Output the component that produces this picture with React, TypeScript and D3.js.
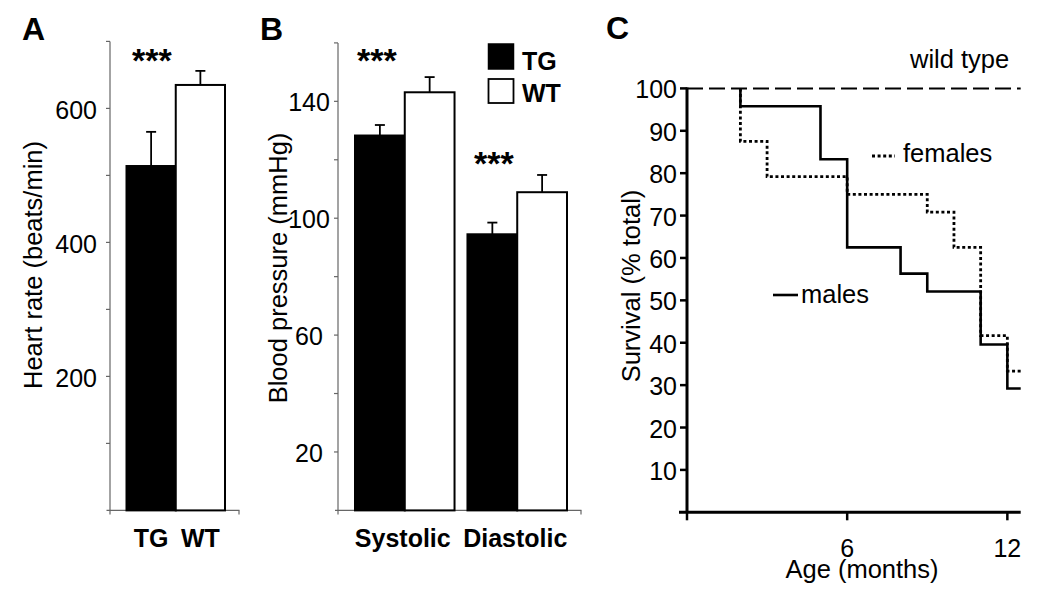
import React from "react";
import * as d3 from "d3";

// Panel A: heart rate
const groups = ["TG", "WT"];
const heartRate = [514, 635];
const heartRateErr = [51, 21];

// Panel B: blood pressure
const bpCategories = ["Systolic", "Diastolic"];
const bpTG = [128.3, 94.5];
const bpTGErr = [3.6, 4.0];
const bpWT = [143.1, 108.9];
const bpWTErr = [5.2, 5.9];

// Panel C: survival (step after each event time)
const maleEvents = [2, 5, 6, 8, 9, 11, 12];
const maleSurvival = [95.8, 83.3, 62.5, 56.3, 52.1, 39.6, 29.2];
const femaleEvents = [2, 3, 6, 9, 10, 11, 12];
const femaleSurvival = [87.5, 79.2, 75.0, 70.8, 62.5, 41.7, 33.3];
const followUpEnd = 12.5;

const hrTicks = [100, 200, 300, 400, 500, 600, 700];
const hrLabels = [200, 400, 600];
const bpTicks = [20, 40, 60, 80, 100, 120, 140, 160];
const bpLabels = [20, 60, 100, 140];
const survTicks = [10, 20, 30, 40, 50, 60, 70, 80, 90, 100];
const ageTicks = [0, 6, 12];
const ageLabels = [6, 12];

const FONT = "'Liberation Sans', Arial, Helvetica, sans-serif";
const AXIS_GRAY = "#666";

const App: React.FC = () => {
  // ---------- A ----------
  const yA = d3.scaleLinear().domain([0, 700]).range([510.4, 41.4]);
  const xA = d3.scaleBand<string>().domain(groups).range([126.5, 225]);
  const axA = 110;

  // ---------- B ----------
  const yB = d3.scaleLinear().domain([0, 160]).range([510.4, 42.9]);
  const xB = d3.scaleBand<string>().domain(bpCategories).range([355, 567]).paddingInner(0.115);
  const xSub = d3.scaleBand<string>().domain(groups).range([0, xB.bandwidth()]);
  const axB = 338;

  // ---------- C ----------
  const xC = d3.scaleLinear().domain([0, followUpEnd]).range([687, 1020.7]);
  const yC = d3.scaleLinear().domain([0, 100]).range([512.3, 88.4]);
  const step = d3
    .line<[number, number]>()
    .x((d) => xC(d[0]))
    .y((d) => yC(d[1]))
    .curve(d3.curveStepAfter);
  const toPts = (ev: number[], s: number[]): [number, number][] => [
    [ev[0], 100],
    ...ev.map((t, i) => [t, s[i]] as [number, number]),
    [followUpEnd, s[s.length - 1]],
  ];
  const malePath = step(toPts(maleEvents, maleSurvival)) || "";
  const femalePath = step(toPts(femaleEvents, femaleSurvival)) || "";

  const errBar = (cx: number, yTop: number, yErr: number, key: string) => (
    <g key={key} stroke="#000" strokeWidth={1.8}>
      <line x1={cx} x2={cx} y1={yTop} y2={yErr} />
      <line x1={cx - 5} x2={cx + 5} y1={yErr} y2={yErr} />
    </g>
  );

  return (
    <svg
      width={1050}
      height={595}
      style={{ position: "absolute", left: 0, top: 0, background: "#fff" }}
      fontFamily={FONT}
    >
      <rect width={1050} height={595} fill="#fff" />

      {/* ===== Panel A ===== */}
      <text x={22} y={40} fontSize={32} fontWeight="bold">A</text>
      <line x1={axA} x2={axA} y1={yA(700)} y2={yA(0)} stroke={AXIS_GRAY} strokeWidth={1.2} />
      <line x1={106.5} x2={239.5} y1={yA(0)} y2={yA(0)} stroke={AXIS_GRAY} strokeWidth={1.2} />
      <line x1={axA} x2={axA} y1={yA(0)} y2={yA(0) + 4} stroke={AXIS_GRAY} strokeWidth={1.2} />
      <line x1={239} x2={239} y1={yA(0)} y2={yA(0) + 4} stroke={AXIS_GRAY} strokeWidth={1.2} />
      {hrTicks.map((t) => (
        <line key={t} x1={axA - 4} x2={axA} y1={yA(t)} y2={yA(t)} stroke={AXIS_GRAY} strokeWidth={1.2} />
      ))}
      {hrLabels.map((t) => (
        <text key={t} x={97} y={yA(t) + 10.5} fontSize={25} textAnchor="end">{t}</text>
      ))}
      <text
        transform={`translate(42,265) rotate(-90)`}
        fontSize={25.5}
        textAnchor="middle"
      >
        Heart rate (beats/min)
      </text>
      {groups.map((g, i) => (
        <rect
          key={g}
          x={xA(g)!}
          y={yA(heartRate[i])}
          width={xA.bandwidth()}
          height={yA(0) - yA(heartRate[i])}
          fill={g === "TG" ? "#000" : "#fff"}
          stroke="#000"
          strokeWidth={2}
        />
      ))}
      {groups.map((g, i) =>
        errBar(xA(g)! + xA.bandwidth() / 2, yA(heartRate[i]), yA(heartRate[i] + heartRateErr[i]), "ea" + g)
      )}
      {groups.map((g) => (
        <text key={g} x={xA(g)! + xA.bandwidth() / 2} y={546.5} fontSize={25} fontWeight="bold" textAnchor="middle">
          {g}
        </text>
      ))}
      <text x={132} y={71.5} fontSize={34} fontWeight="bold">***</text>

      {/* ===== Panel B ===== */}
      <text x={260} y={40} fontSize={32} fontWeight="bold">B</text>
      <line x1={axB} x2={axB} y1={yB(160)} y2={yB(0)} stroke={AXIS_GRAY} strokeWidth={1.2} />
      <line x1={335} x2={581.5} y1={yB(0)} y2={yB(0)} stroke={AXIS_GRAY} strokeWidth={1.2} />
      <line x1={axB} x2={axB} y1={yB(0)} y2={yB(0) + 4} stroke={AXIS_GRAY} strokeWidth={1.2} />
      <line x1={581} x2={581} y1={yB(0)} y2={yB(0) + 4} stroke={AXIS_GRAY} strokeWidth={1.2} />
      {bpTicks.map((t) => (
        <line key={t} x1={axB - 4} x2={axB} y1={yB(t)} y2={yB(t)} stroke={AXIS_GRAY} strokeWidth={1.2} />
      ))}
      {bpLabels.map((t) => (
        <text key={t} x={309} y={yB(t) + 10} fontSize={25} textAnchor="middle">{t}</text>
      ))}
      <text
        transform={`translate(287,268) rotate(-90)`}
        fontSize={25.5}
        textAnchor="middle"
      >
        Blood pressure (mmHg)
      </text>
      {bpCategories.map((c, ci) => (
        <g key={c} transform={`translate(${xB(c)},0)`}>
          {groups.map((g) => {
            const v = g === "TG" ? bpTG[ci] : bpWT[ci];
            const e = g === "TG" ? bpTGErr[ci] : bpWTErr[ci];
            const x0 = xSub(g)!;
            return (
              <g key={g}>
                <rect
                  x={x0}
                  y={yB(v)}
                  width={xSub.bandwidth()}
                  height={yB(0) - yB(v)}
                  fill={g === "TG" ? "#000" : "#fff"}
                  stroke="#000"
                  strokeWidth={2}
                />
                {errBar(x0 + xSub.bandwidth() / 2, yB(v), yB(v + e), "eb" + g)}
              </g>
            );
          })}
          <text x={xB.bandwidth() / 2 - 2} y={546.5} fontSize={25} fontWeight="bold" textAnchor="middle">
            {c}
          </text>
        </g>
      ))}
      <text x={357} y={71.5} fontSize={34} fontWeight="bold">***</text>
      <text x={474} y={175} fontSize={34} fontWeight="bold">***</text>
      {/* legend */}
      <rect x={488.5} y={44} width={25} height={25} fill="#000" stroke="#000" strokeWidth={1.5} />
      <rect x={488.5} y={79} width={25} height={24} fill="#fff" stroke="#000" strokeWidth={1.8} />
      <text x={522} y={70} fontSize={25} fontWeight="bold">TG</text>
      <text x={522} y={102} fontSize={25} fontWeight="bold">WT</text>

      {/* ===== Panel C ===== */}
      <text x={606} y={39} fontSize={32} fontWeight="bold">C</text>
      <text
        transform={`translate(640,286) rotate(-90)`}
        fontSize={25.5}
        textAnchor="middle"
      >
        Survival (% total)
      </text>
      {survTicks.map((t) => (
        <g key={t}>
          <line x1={680} x2={687} y1={yC(t)} y2={yC(t)} stroke="#000" strokeWidth={2.5} />
          <text x={677} y={yC(t) + 10} fontSize={25} textAnchor="end">{t}</text>
        </g>
      ))}
      {ageTicks.map((t) => (
        <line key={t} x1={xC(t)} x2={xC(t)} y1={yC(0)} y2={yC(0) + 8} stroke="#000" strokeWidth={2.5} />
      ))}
      {ageLabels.map((t) => (
        <text key={t} x={xC(t)} y={556.5} fontSize={25} textAnchor="middle">{t}</text>
      ))}
      <text x={862} y={578} fontSize={25.5} textAnchor="middle">Age (months)</text>

      {/* wild type reference */}
      <line
        x1={xC(0)}
        x2={xC(followUpEnd)}
        y1={yC(100)}
        y2={yC(100)}
        stroke="#000"
        strokeWidth={2}
        strokeDasharray="16,6"
      />
      <text x={910} y={68} fontSize={25.5}>wild type</text>

      <path d={femalePath} fill="none" stroke="#000" strokeWidth={2.8} strokeDasharray="3,2.6" />
      <path d={malePath} fill="none" stroke="#000" strokeWidth={2.6} />

      {/* axes on top */}
      <line x1={xC(0)} x2={xC(0)} y1={yC(100) - 1} y2={yC(0)} stroke="#000" strokeWidth={3} />
      <line x1={679} x2={xC(followUpEnd)} y1={yC(0)} y2={yC(0)} stroke="#000" strokeWidth={3} />

      {/* legends */}
      <line x1={872} x2={895} y1={156} y2={156} stroke="#000" strokeWidth={2.8} strokeDasharray="3,2.6" />
      <text x={903} y={162} fontSize={25.5}>females</text>
      <line x1={773} x2={798} y1={295} y2={295} stroke="#000" strokeWidth={2.6} />
      <text x={801} y={303} fontSize={25.5}>males</text>
    </svg>
  );
};

export default App;
